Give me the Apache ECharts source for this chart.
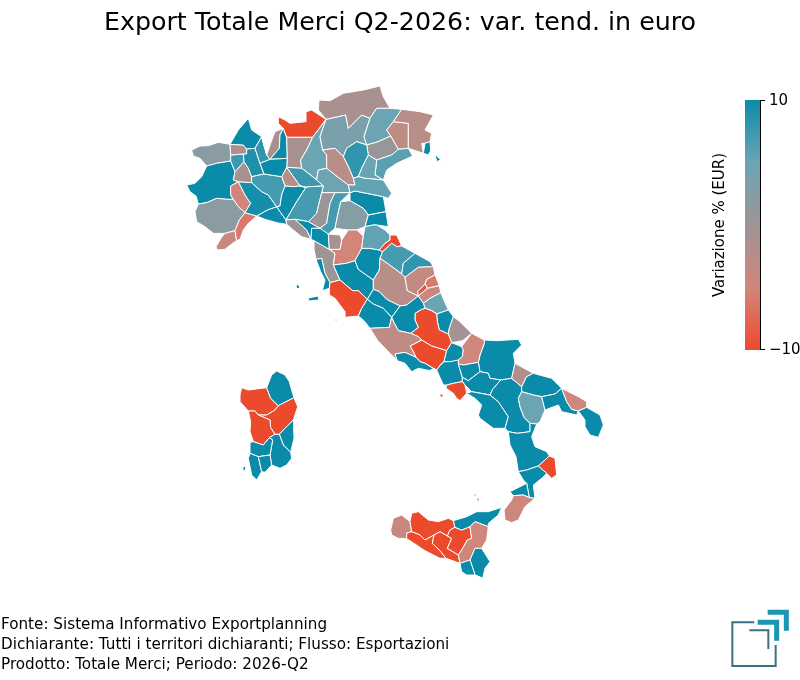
<!DOCTYPE html>
<html><head><meta charset="utf-8">
<style>html,body{margin:0;padding:0;background:#fff}#c{width:800px;height:680px}</style>
<script src="https://cdn.jsdelivr.net/npm/echarts@6/dist/echarts.min.js"></script>
</head><body><div id="c"></div>
<script>
const titleText = 'Export Totale Merci Q2-2026: var. tend. in euro';
const footerLines = ['Fonte: Sistema Informativo Exportplanning','Dichiarante: Tutti i territori dichiaranti; Flusso: Esportazioni','Prodotto: Totale Merci; Periodo: 2026-Q2'];
const legendTitle = 'Variazione % (EUR)';
const scaleMin = -10, scaleMax = 10;
const scaleColors = ['#EC4A2D','#D3857A','#9E9496','#6BA5B4','#0B8BAA'];

const provNorth = ['Aosta','Torino','Cuneo','Imperia','Savona','Genova','Asti','Alessandria','Vercelli','Ivrea','Biella','Verbania','Novara','Varese','Como','Lecco','Sondrio','Bergamo','Brescia','Trento','Bolzano','Belluno','Pordenone','Udine','Gorizia','Trieste','Treviso','Venezia','Vicenza','Padova','Verona','Mantova','Cremona','Lodi','Pavia','Milano','Piacenza','Parma','Reggio Emilia','Modena','Ferrara','Rovigo','Bologna','Ravenna','Massa','La Spezia'];
const valNorth = [2,10,2,-4,-6,10,-5,9.5,-1,7.5,-1.5,10,9,8,-1,10,-10,-1,5,3.5,-1,5,-3,-2.5,10,10,0.5,6,8,5,-2.5,4.5,7.5,-2.5,7,10,10,7,0.5,7,10,5.5,2.5,10,0,10];

const provCentre = ['Pisa','Livorno','Firenze','Lucca','Pistoia','Siena','Arezzo','Grosseto','Forli','Rimini','Pesaro','Ancona','Perugia','Macerata','Fermo','Ascoli Sottile','Ascoli','Teramo','Pescara','Chieti','L\'Aquila','Isernia','Rieti','Viterbo','Terni','Frosinone','Latina','Benevento'];
const valCentre = [0,10,-5,10,-1,10,10,-10,5.5,-10,7,8,-2.5,-3.5,-6,-9,-4,5,10,-0.5,-10,-10,10,10,10,-3,10,10];

const provSouth = ['Foggia','Campobasso','Caserta','Avellino','Salerno Nord','Napoli','Salerno','Potenza','BAT','Bari','Matera','Taranto','Brindisi','Lecce','Cosenza','Crotone','Catanzaro','Vibo Valentia','Reggio Calabria'];
const valSouth = [10,-4.5,10,10,10,-10,10,10,-2,10,5,10,-4.5,10,10,-10,10,10,-4.5];

const provSicily = ['Trapani','Palermo','Agrigento','Caltanissetta','Enna','Messina','Catania','Siracusa','Ragusa','Pantelleria'];
const valSicily = [-4,-10,-10,-10,-10,10,-4.5,10,10,-4];

const provSardinia = ['Sassari','Gallura','Nuoro','Oristano','Ogliastra','Cagliari','Sud Sardegna','Carbonia','Campidano'];
const valSardinia = [-10,10,-10,-10,10,10,10,10,10];

const shapesNorth = {
'Aosta':'35,210 60,198 85,197 115,187 150,193 152,225 152,243 110,250 80,258 60,235 40,228',
'Torino':'20,315 45,310 65,290 72,260 80,258 110,250 152,243 155,250 165,275 160,300 175,305 152,318 152,345 160,358 140,358 110,355 80,368 55,372 48,348 30,335',
'Cuneo':'45,395 62,375 80,368 110,355 140,358 160,358 175,380 195,398 178,420 165,452 135,460 100,460 75,440 50,425',
'Imperia':'108,500 125,472 140,460 165,452 170,482 160,488 135,508 112,510',
'Savona':'165,452 178,420 195,398 230,408 205,430 190,450 180,478 170,482',
'Genova':'230,408 262,390 290,380 300,395 318,420 320,433 290,428 255,418 235,413',
'Asti':'152,318 175,305 195,345 212,370 195,398 175,380 160,358 152,345',
'Alessandria':'175,305 215,308 245,335 265,345 290,380 262,390 230,408 195,398 212,370 195,345',
'Vercelli':'165,275 192,245 205,265 215,290 215,308 175,305 160,300',
'Ivrea':'152,225 190,222 192,245 165,275 155,250 152,243',
'Biella':'150,193 190,195 200,207 200,222 190,222 152,225',
'Verbania':'150,193 175,150 205,115 215,150 245,170 225,205 200,207 190,195',
'Novara':'200,207 225,205 240,250 252,282 225,288 215,290 205,265 192,245 190,222 200,222',
'Varese':'245,170 260,225 270,238 262,240 240,250 225,205',
'Como':'245,170 260,225 272,190 285,155 310,145 300,165 298,205 270,238 260,225',
'Lecco':'300,165 310,145 320,172 322,180 322,235 270,238 298,205',
'Sondrio':'295,110 315,120 330,130 378,125 378,95 395,90 410,100 438,118 398,172 320,172 310,145 295,130',
'Bergamo':'320,172 398,172 380,210 362,240 365,265 320,262 322,235 322,180',
'Brescia':'398,172 438,118 420,170 428,210 440,225 440,265 415,270 410,300 375,272 365,265 362,240 380,210',
'Trento':'438,118 497,105 505,145 545,105 570,115 552,170 560,195 530,185 500,205 490,230 465,205 428,210 420,170',
'Bolzano':'417,60 450,62 490,40 550,30 600,18 610,50 630,85 590,85 570,115 545,105 505,145 497,105 438,118 415,90',
'Belluno':'570,115 590,85 630,85 665,88 640,125 620,150 632,168 595,185 560,195 552,170',
'Pordenone':'620,150 640,125 685,130 685,205 655,208 632,168',
'Udine':'640,125 665,88 720,95 760,105 735,150 755,160 750,185 725,190 730,220 685,205 685,130',
'Gorizia':'735,190 752,185 745,225 735,225',
'Trieste':'752,212 765,222 782,240 770,245 760,225',
'Treviso':'560,195 595,185 632,168 655,208 635,225 590,240 565,225',
'Venezia':'585,285 590,240 635,225 655,208 685,205 698,228 650,250 620,270 610,300',
'Vicenza':'500,205 530,185 560,195 565,225 545,265 535,290 520,295 505,260 490,230',
'Padova':'545,265 565,225 590,240 585,285 610,300 555,295 525,298 520,295 535,290',
'Verona':'428,210 465,205 490,230 505,260 520,295 525,298 525,315 505,315 465,285 440,265 440,225',
'Mantova':'415,270 440,265 465,285 505,315 510,338 465,338 425,338 430,318 410,300',
'Cremona':'320,262 365,265 375,272 410,300 430,318 425,325 390,320 360,318',
'Lodi':'305,290 320,262 360,318 340,320 315,318',
'Pavia':'215,308 225,288 252,282 300,284 305,290 315,318 305,345 300,378 290,380 265,345 245,335',
'Milano':'240,250 262,240 270,238 322,235 320,262 305,290 300,284 252,282',
'Piacenza':'315,318 340,320 360,318 378,322 350,365 318,420 300,395 290,380 300,378 305,345',
'Parma':'360,318 390,320 425,325 425,338 425,345 410,400 385,425 345,418 318,420 350,365 378,322',
'Reggio Emilia':'425,338 465,338 450,370 440,430 420,445 385,425 410,400 425,345',
'Modena':'465,338 510,338 482,365 472,410 465,445 430,465 420,445 440,430 450,370',
'Ferrara':'510,338 525,333 610,350 618,395 565,405 550,385 510,362',
'Rovigo':'505,315 525,315 525,298 555,295 610,300 635,340 625,355 610,350 525,333 510,338',
'Bologna':'482,365 510,362 550,385 565,405 555,440 530,450 505,450 465,445 472,410',
'Ravenna':'565,405 618,395 625,440 590,435 555,440',
'La Spezia':'345,418 385,425 420,445 395,445 393,470 380,450',
'Massa':'318,420 345,418 380,450 393,478 365,470 340,450 320,433'
};
const shapesCentre = {
'Pisa':'72,62 118,88 135,100 130,135 150,180 120,188 105,160 95,115 78,118 72,88',
'Livorno':'78,118 95,115 105,160 120,188 118,205 97,212 105,180 92,155',
'Firenze':'118,88 150,88 175,30 200,30 220,48 215,85 195,122 170,130 130,135 135,100',
'Lucca':'63,30 95,25 115,42 118,88 72,62',
'Pistoia':'115,42 150,45 155,60 150,88 118,88',
'Siena':'130,135 170,130 195,122 205,148 250,180 250,208 232,238 205,212 188,212 150,180',
'Arezzo':'195,122 215,85 240,85 268,90 278,95 270,115 268,150 250,180 205,148',
'Grosseto':'120,188 150,180 188,212 205,212 232,238 215,265 205,288 165,292 165,275 135,235 118,225',
'Forli':'225,20 250,15 285,30 300,45 300,60 285,70 268,90 240,85 215,85 220,48',
'Rimini':'300,45 320,45 335,78 320,80 305,70 278,95 268,90 285,70 300,60',
'Pesaro':'270,115 278,95 305,70 320,80 335,78 375,100 340,130 335,162 295,132',
'Ancona':'335,162 340,130 375,100 420,125 430,140 385,142 345,172',
'Perugia':'250,208 250,180 268,150 270,115 295,132 335,162 345,172 352,212 385,228 350,255 330,258 290,238 268,215',
'Macerata':'345,172 385,142 430,140 435,165 410,178 405,192 383,215 385,228 352,212',
'Fermo':'410,178 435,165 448,197 412,205 405,192',
'Ascoli Sottile':'383,215 405,192 412,205 410,208 385,228',
'Ascoli':'385,228 410,208 412,205 448,197 452,218 420,235 400,250',
'Teramo':'400,250 420,235 452,218 475,270 440,282 425,272 405,265',
'Pescara':'425,272 440,282 475,270 490,290 478,325 475,342 448,330 442,305',
'Chieti':'490,290 510,305 545,340 518,362 485,368 475,342 478,325',
'L\'Aquila':'375,280 395,268 405,265 425,272 442,305 448,330 475,342 485,368 470,392 425,378 395,360 385,350 362,340 385,322 375,300',
'Isernia':'360,378 395,360 425,378 470,392 450,437 430,445 405,430 390,425 378,412 370,395',
'Rieti':'232,238 250,208 268,215 290,238 330,258 335,265 305,292 280,265 250,252',
'Viterbo':'205,288 215,265 232,238 250,252 280,265 305,292 298,322 240,325 222,302',
'Terni':'305,292 335,265 330,258 350,255 385,228 400,250 405,265 395,268 375,280 375,300 385,322 362,340 325,332 312,308',
'Frosinone':'232,325 240,325 298,322 305,292 312,308 325,332 362,340 385,350 395,360 360,378 370,395 378,412 345,397 315,402 322,422 290,390 262,360',
'Latina':'315,402 345,397 378,412 390,425 405,430 430,445 450,437 420,452 385,445 365,455 345,430 322,422',
'Benevento':'470,392 485,368 515,380 517,410 505,432 480,425 462,425 450,437'
};
const shapesSouth = {
'Foggia':'163,30 200,32 265,28 275,45 250,70 255,100 245,145 212,150 180,145 175,130 150,125 145,97 140,100 150,75 163,40',
'Campobasso':'125,12 163,40 150,75 140,100 100,105 85,90 100,60',
'Caserta':'20,120 35,100 60,90 85,90 90,108 97,142 97,155 70,160 50,165 40,165',
'Avellino':'90,108 100,105 140,100 145,97 150,125 115,152 97,142',
'Salerno Nord':'97,155 97,142 115,152 150,125 175,130 180,145 212,150 188,178 180,195 125,185 105,165',
'Napoli':'50,165 70,160 97,155 105,165 110,190 105,195 90,212 80,205 70,190 48,175',
'Salerno':'105,195 110,190 125,185 180,195 205,215 235,260 225,295 190,295 150,265 145,255 155,225 135,205',
'Potenza':'188,178 212,150 245,145 275,170 275,185 265,205 270,230 282,262 300,280 300,305 262,310 235,305 225,295 235,260 205,215 180,195',
'BAT':'250,105 310,130 290,140 275,170 245,145 255,100',
'Bari':'290,140 310,130 365,145 395,175 375,192 335,200 330,195 310,195 275,185 275,170',
'Matera':'265,205 275,185 310,195 330,195 345,240 330,275 300,280 282,262 270,230',
'Taranto':'330,195 335,200 375,192 395,175 397,180 410,215 425,238 445,243 440,255 395,245 385,225 345,240',
'Brindisi':'397,180 445,200 470,215 470,232 445,243 425,238 410,215',
'Lecce':'445,243 470,232 478,228 510,255 520,285 505,322 480,315 465,290 465,270',
'Cosenza':'235,305 262,310 300,305 300,280 320,282 305,320 315,350 350,365 358,378 325,408 290,420 265,425 258,380 240,345',
'Crotone':'360,375 375,385 380,435 365,445 325,408',
'Catanzaro':'265,425 290,420 325,408 350,430 335,445 310,465 315,505 298,503 290,460 280,450',
'Vibo Valentia':'240,485 280,465 290,460 298,503 280,495 250,497',
'Reggio Calabria':'222,540 245,510 250,497 280,495 298,503 315,505 315,510 285,530 265,570 245,578 225,570'
};
const shapesSicily = {
'Trapani':'92,150 100,115 125,105 150,125 155,155 140,160 140,176 115,175 95,165',
'Palermo':'155,100 175,95 205,120 235,125 265,115 280,122 285,142 270,150 262,168 240,155 222,165 195,180 180,165 140,160 155,155 150,125',
'Agrigento':'140,160 180,165 195,180 222,165 217,190 240,212 258,235 240,235 195,212 165,192 140,176',
'Caltanissetta':'222,165 240,155 262,168 275,175 262,205 295,225 300,250 258,235 240,212 217,190',
'Enna':'285,142 305,150 330,140 335,175 322,180 308,205 295,225 262,205 275,175 262,168 270,150',
'Messina':'280,122 320,110 350,95 385,95 425,82 415,105 385,130 385,140 345,125 330,140 305,150 285,142',
'Catania':'345,125 385,140 380,180 365,205 345,205 330,240 300,250 295,225 308,205 322,180 335,175 330,140',
'Siracusa':'345,205 365,205 390,245 375,265 368,295 345,285 335,240 330,240',
'Ragusa':'300,250 330,240 335,240 345,285 362,292 320,285 305,275',
'Pantelleria':'37,277 47,280 45,286 38,283'
};
const shapesSardinia = {
'Sassari':'30,90 35,68 55,75 110,68 122,100 145,122 135,135 110,150 85,150 75,138 55,138 30,110',
'Gallura':'110,68 125,30 140,18 165,30 178,50 185,75 192,98 145,122 122,100',
'Nuoro':'145,122 192,98 203,125 190,165 148,208 135,208 122,188 120,165 85,150 110,150 135,135',
'Oristano':'55,138 75,138 85,150 120,165 122,188 135,208 118,218 100,240 70,230 60,200 62,170',
'Ogliastra':'148,208 165,190 190,165 192,220 182,262 160,240',
'Cagliari':'118,218 135,208 148,208 160,240 182,262 185,280 170,300 150,310 125,300 120,270 128,225',
'Sud Sardegna':'60,232 70,230 100,240 118,218 128,225 120,270 85,275 60,265',
'Carbonia':'55,280 60,265 85,275 95,320 80,345 65,330',
'Campidano':'85,275 120,270 125,300 105,322 95,320'
};
const islets = [
 {name:'Capraia', value:10, pts:'297,284 300,287 298,289 296,287'},
 {name:'Elba', value:10, pts:'308,298 318,296 319,300 309,301'},
 {name:'Giglio', value:-8, pts:'335,319 337,319 337,321 335,321'},
 {name:'Ischia', value:-10, pts:'440,394 443,394 443,397 440,397'},
 {name:'Lipari', value:10, pts:'474,494 476,494 476,496 474,496'},
 {name:'Salina', value:10, pts:'477,498 479,498 479,501 477,501'},
 {name:'San Pietro', value:10, pts:'243,466 246,467 245,471 243,470'}
];

const rings = [], ringNames = [], seriesData = [];
function addGroup(ox, oy, names, vals, shapes){
  names.forEach((n,i)=>{
    rings.push(shapes[n].trim().split(/\s+/).map(p=>{const q=p.split(',');return [ox+q[0]/3, oy+q[1]/3];}));
    ringNames.push(n);
    seriesData.push({name:n,value:vals[i]});
  });
}
addGroup(180,80,provNorth,valNorth,shapesNorth);
addGroup(290,220,provCentre,valCentre,shapesCentre);
addGroup(430,330,provSouth,valSouth,shapesSouth);
addGroup(360,480,provSicily,valSicily,shapesSicily);
addGroup(230,365,provSardinia,valSardinia,shapesSardinia);
const nMain = rings.length;
islets.forEach(s=>{
  rings.push(s.pts.split(' ').map(p=>p.split(',').map(Number)));
  ringNames.push(s.name);
  seriesData.push({name:s.name,value:s.value});
});
// weld neighbouring borders so that shared edges coincide
(function weld(tolV,tolE){
  const canon=[];
  for(let r=0;r<nMain;r++){
    rings[r]=rings[r].map(p=>{
      for(const c of canon){ if(Math.hypot(c[0]-p[0],c[1]-p[1])<tolV) return c; }
      const c=[p[0],p[1]]; canon.push(c); return c;
    }).filter((p,i,a)=>p!==a[(i+a.length-1)%a.length]);
  }
  for(let r=0;r<nMain;r++){
    const out=[]; const R=rings[r];
    R.forEach((a,i)=>{
      const b=R[(i+1)%R.length]; out.push(a);
      const dx=b[0]-a[0],dy=b[1]-a[1],L2=dx*dx+dy*dy; if(!L2) return;
      const ins=[];
      for(let s=0;s<nMain;s++){ if(s===r) continue;
        for(const v of rings[s]){
          if(v===a||v===b) continue;
          const t=((v[0]-a[0])*dx+(v[1]-a[1])*dy)/L2;
          if(t<=0.02||t>=0.98) continue;
          const d=Math.hypot(a[0]+t*dx-v[0],a[1]+t*dy-v[1]);
          if(d<tolE && !ins.some(q=>q.v===v)) ins.push({t,v});
        }
      }
      ins.sort((p,q)=>p.t-q.t).forEach(q=>out.push(q.v));
    });
    rings[r]=out;
  }
})(3,3);
const features = rings.map((ring,i)=>({type:'Feature',properties:{name:ringNames[i]},
  geometry:{type:'Polygon',coordinates:[ring.concat([ring[0]])]}}));
echarts.registerMap('italia',{type:'FeatureCollection',features});

const font='"DejaVu Sans"';
const chart=echarts.init(document.getElementById('c'),null,{renderer:'canvas'});
const barX=745, barW=15, barY=100, barH=250;
const logoDark='#3B6F85', logoTeal='#1A96B4';
const L=(pts,color,w)=>({type:'polyline',shape:{points:pts.map(p=>[720+p[0]/3,600+p[1]/3])},style:{stroke:color,lineWidth:w,fill:null},silent:true});
chart.setOption({
  animation:false,
  backgroundColor:'#fff',
  title:{text:titleText,left:395,top:6,textAlign:'center',textStyle:{fontFamily:font,fontSize:25.3,fontWeight:'normal',color:'#000'}},
  visualMap:{type:'continuous',min:scaleMin,max:scaleMax,show:false,inRange:{color:scaleColors}},
  series:[{type:'map',map:'italia',silent:true,left:0,top:0,width:800,height:680,roam:false,
    projection:{project:p=>p,unproject:p=>p},boundingCoords:[[0,0],[800,680]],
    label:{show:false},emphasis:{disabled:true},select:{disabled:true},
    itemStyle:{borderColor:'#fff',borderWidth:1,areaColor:'#eee'},data:seriesData}],
  graphic:[
    {type:'rect',shape:{x:barX,y:barY,width:barW,height:barH},silent:true,
      style:{fill:new echarts.graphic.LinearGradient(0,1,0,0,scaleColors.map((c,i)=>({offset:i/(scaleColors.length-1),color:c})))}},
    {type:'line',shape:{x1:barX+barW+.5,y1:barY,x2:barX+barW+.5,y2:barY+barH},style:{stroke:'#000',lineWidth:1},silent:true},
    {type:'line',shape:{x1:barX+barW,y1:barY+.5,x2:barX+barW+5,y2:barY+.5},style:{stroke:'#000',lineWidth:1},silent:true},
    {type:'line',shape:{x1:barX+barW,y1:barY+barH-.5,x2:barX+barW+5,y2:barY+barH-.5},style:{stroke:'#000',lineWidth:1},silent:true},
    {type:'text',x:769,y:101,style:{text:String(scaleMax),font:'15px '+font,fill:'#000',textVerticalAlign:'middle'},silent:true},
    {type:'text',x:769,y:350.5,style:{text:'\u2212'+Math.abs(scaleMin),font:'15px '+font,fill:'#000',textVerticalAlign:'middle'},silent:true},
    {type:'text',x:720,y:225,rotation:Math.PI/2,style:{text:legendTitle,font:'15px '+font,fill:'#000',textAlign:'center',textVerticalAlign:'middle'},silent:true},
    ...footerLines.map((t,i)=>({type:'text',x:1,y:625.5+20*i,style:{text:t,font:'15.2px '+font,fill:'#000',textVerticalAlign:'middle'},silent:true})),
    L([[103,67],[37,67],[37,198],[167,198],[167,135]],logoDark,2),
    L([[88,91],[145,91],[145,147]],logoDark,2),
    L([[113,67],[170,67],[170,122]],logoTeal,5),
    L([[143,37],[199,37],[199,92]],logoTeal,5)
  ]
});
</script></body></html>
